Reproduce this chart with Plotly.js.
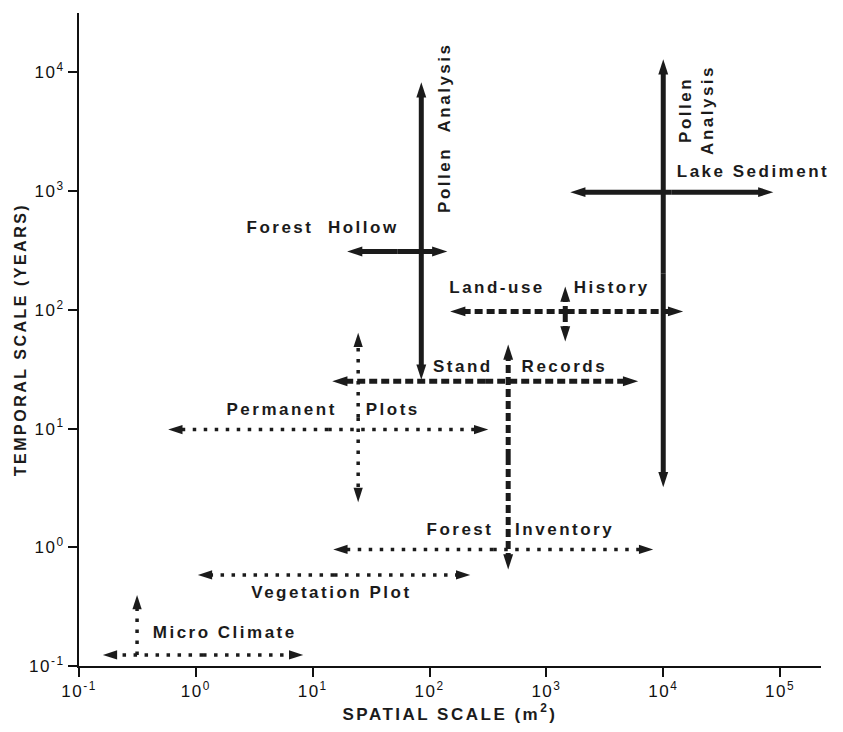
<!DOCTYPE html>
<html><head><meta charset="utf-8">
<script src="https://cdn.plot.ly/plotly-3.0.1.min.js"></script>
<style>
html,body{margin:0;padding:0;background:#fff;}
#chart .annotation-text{letter-spacing:2.5px;}
#chart .xtitle,#chart .ytitle{letter-spacing:2.5px;}
#chart .xtick text,#chart .ytick text{letter-spacing:1.5px;}
</style></head><body>
<div id="chart" style="width:843px;height:732px;"></div>
<script>
// ---- DATA ----
// Horizontal ranges: spatial extent (m²) of each method at its temporal scale (years)
const hMethods     = ["Micro Climate","Vegetation Plot","Forest Inventory","Permanent Plots","Stand Records","Land-use History","Forest Hollow","Lake Sediment"];
const hSpatialLow  = [0.16, 1.04, 15, 0.58, 14.7, 150, 19.7, 1600];
const hSpatialHigh = [8.3, 223, 8200, 318, 6100, 14800, 142, 87500];
const hTemporal    = [0.124, 0.585, 0.96, 9.8, 25, 97, 310, 980];

// Vertical ranges: temporal extent (years) of each method at its spatial scale (m²)
const vMethods      = ["Micro Climate","Permanent Plots","Stand Records","Land-use History","Pollen Analysis (hollow)","Pollen Analysis (lake)"];
const vTemporalLow  = [0.124, 2.4, 0.65, 54, 25.8, 3.2];
const vTemporalHigh = [0.397, 64, 51, 157, 8240, 12900];
const vSpatial      = [0.314, 24.5, 471, 1450, 85, 10000];

// Axis ticks
const xTickVals = [0.1, 1, 10, 100, 1000, 10000, 100000];
const xTickText = ["10<sup>-1</sup>","10<sup>0</sup>","10<sup>1</sup>","10<sup>2</sup>","10<sup>3</sup>","10<sup>4</sup>","10<sup>5</sup>"];
const yTickVals = [0.1, 1, 10, 100, 1000, 10000];
const yTickText = ["10<sup>-1</sup>","10<sup>0</sup>","10<sup>1</sup>","10<sup>2</sup>","10<sup>3</sup>","10<sup>4</sup>"];

// ---- STYLES ----
const INK = "#1b1b1b";
const STYLES = {
  dot:   {width: 3.5, dash: "3.5px,7.5px", size: 15},
  dash:  {width: 5,   dash: "8px,4px",     size: 16},
  solid: {width: 5,   dash: "solid",       size: 16}
};
const hStyle = ["dot","dot","dot","dot","dash","dash","solid","solid"];
const vStyle = ["dot","dot","dash","dash","solid","solid"];
const vBottomArrow = [false, true, true, true, true, true];

function half(x0, y0, x1, y1, st, arrow, name) {
  const s = STYLES[st];
  return {
    type: "scatter", mode: "lines+markers", name: name,
    x: [x0, x1], y: [y0, y1],
    line: {color: INK, width: s.width, dash: s.dash},
    marker: {symbol: "arrow", size: [0, arrow ? s.size : 0], angleref: "previous",
             color: INK, opacity: 1, line: {width: 0}},
    opacity: 1,
    hoverinfo: "skip", showlegend: false, cliponaxis: false
  };
}

const traces = [];
hMethods.forEach((m, i) => {
  const lo = hSpatialLow[i], hi = hSpatialHigh[i], y = hTemporal[i];
  const mid = Math.sqrt(lo * hi);
  traces.push(half(mid, y, hi, y, hStyle[i], true, m));
  traces.push(half(mid, y, lo, y, hStyle[i], true, m));
});
vMethods.forEach((m, i) => {
  const lo = vTemporalLow[i], hi = vTemporalHigh[i], x = vSpatial[i];
  if (vBottomArrow[i]) {
    const mid = Math.sqrt(lo * hi);
    traces.push(half(x, mid, x, hi, vStyle[i], true, m));
    traces.push(half(x, mid, x, lo, vStyle[i], true, m));
  } else {
    traces.push(half(x, lo, x, hi, vStyle[i], true, m));
  }
});

const FONT = "Liberation Sans, Arial, Helvetica, sans-serif";
const S = "\u00a0";
function lab(text, x, y, angle) {
  return {text: "<b>" + text + "</b>", x: x, y: y, xref: "x", yref: "y", showarrow: false,
          xanchor: "center", yanchor: "middle", textangle: angle || 0,
          font: {family: FONT, size: 17, color: INK}};
}
const annotations = [
  lab("Micro" + S + "Climate", 0.245, -0.714),
  lab("Vegetation" + S + "Plot", 1.157, -0.377),
  lab("Forest" + S + S + S + "Inventory", 2.778, 0.146),
  lab("Permanent" + S + S + S + S + "Plots", 1.084, 1.157),
  lab("Stand" + S + S + S + S + "Records", 2.77, 1.519),
  lab("Land-use" + S + S + S + S + "History", 3.031, 2.185),
  lab("Forest" + S + S + "Hollow", 1.088, 2.69),
  lab("Lake" + S + "Sediment", 4.764, 3.162),
  lab("Pollen" + S + S + "Analysis", 2.132, 3.532, -90),
  lab("Pollen<br>Analysis", 4.289, 3.684, -90)
];

const axisCommon = {
  type: "log", showgrid: false, zeroline: false, showline: true, linewidth: 2, linecolor: "#111",
  ticks: "outside", ticklen: 9, tickwidth: 2, tickcolor: "#111",
  tickfont: {family: FONT, size: 17, color: "#111"}, tickmode: "array"
};

const layout = {
  width: 843, height: 732,
  margin: {l: 79, r: 22, t: 13, b: 66},
  paper_bgcolor: "#fff", plot_bgcolor: "#fff",
  showlegend: false,
  xaxis: Object.assign({}, axisCommon, {
    range: [-1, 5.35], tickvals: xTickVals, ticktext: xTickText,
    title: {text: "<b>SPATIAL SCALE (m<sup>2</sup>)</b>", font: {family: FONT, size: 17, color: INK}, standoff: 4}
  }),
  yaxis: Object.assign({}, axisCommon, {
    range: [-1, 4.5], tickvals: yTickVals, ticktext: yTickText,
    title: {text: "<b>TEMPORAL SCALE (YEARS)</b>", font: {family: FONT, size: 16, color: INK}, standoff: 4}
  }),
  annotations: annotations
};

Plotly.newPlot("chart", traces, layout, {displayModeBar: false, staticPlot: true});
</script>
</body></html>
